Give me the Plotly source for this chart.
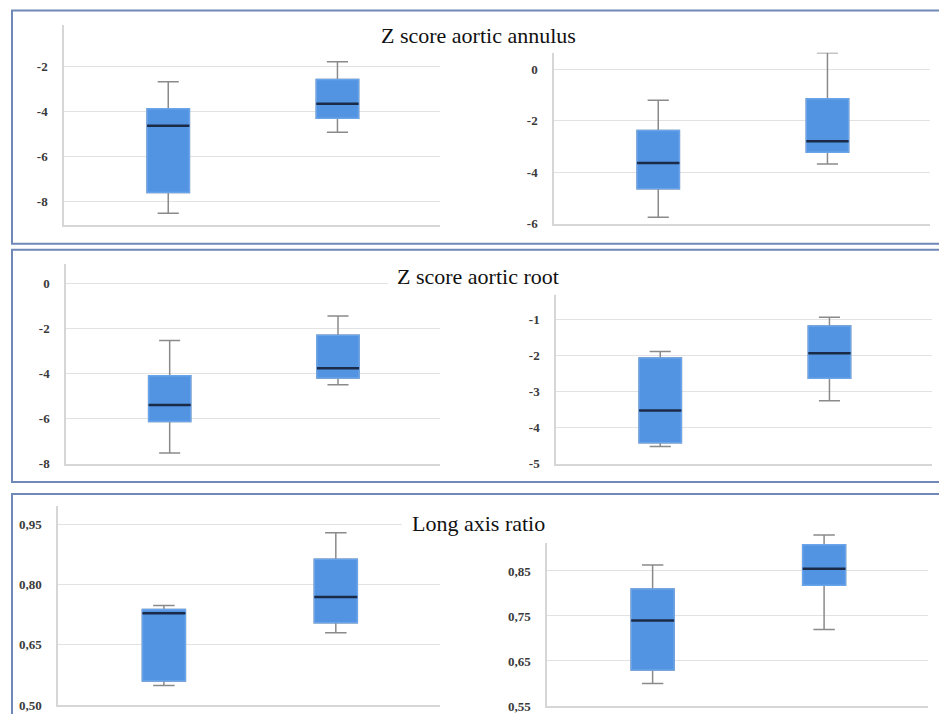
import plotly.graph_objects as go

# page body margin is 8px, so the figure is sized to fill the 947x722 window exactly
OFF = 8
W, H = 947 - 2 * OFF, 722 - 2 * OFF
YS = 0.988  # measured vertical compression of the photographed page

categories = ["Group 1", "Group 2"]
titles = ["Z score aortic annulus", "Z score aortic root", "Long axis ratio"]

# ---- Z score aortic annulus ----
ann_l_low = [-8.52, -4.93]
ann_l_q1 = [-7.60, -4.31]
ann_l_med = [-4.64, -3.66]
ann_l_q3 = [-3.88, -2.59]
ann_l_high = [-2.69, -1.80]
ann_l_ticks = [-8, -6, -4, -2]
ann_l_ticktext = ["-8", "-6", "-4", "-2"]

ann_r_low = [-5.75, -3.68]
ann_r_q1 = [-4.64, -3.22]
ann_r_med = [-3.64, -2.79]
ann_r_q3 = [-2.38, -1.14]
ann_r_high = [-1.20, 0.65]
ann_r_ticks = [-6, -4, -2, 0]
ann_r_ticktext = ["-6", "-4", "-2", "0"]

# ---- Z score aortic root ----
root_l_low = [-7.52, -4.49]
root_l_q1 = [-6.12, -4.19]
root_l_med = [-5.39, -3.76]
root_l_q3 = [-4.09, -2.30]
root_l_high = [-2.53, -1.45]
root_l_ticks = [-8, -6, -4, -2, 0]
root_l_ticktext = ["-8", "-6", "-4", "-2", "0"]

root_r_low = [-4.52, -3.25]
root_r_q1 = [-4.41, -2.62]
root_r_med = [-3.52, -1.93]
root_r_q3 = [-2.06, -1.17]
root_r_high = [-1.88, -0.93]
root_r_ticks = [-5, -4, -3, -2, -1, 0]
root_r_ticktext = ["-5", "-4", "-3", "-2", "-1", ""]

# ---- Long axis ratio ----
lar_l_low = [0.549, 0.680]
lar_l_q1 = [0.560, 0.705]
lar_l_med = [0.729, 0.769]
lar_l_q3 = [0.738, 0.863]
lar_l_high = [0.748, 0.929]
lar_l_ticks = [0.50, 0.65, 0.80, 0.95]
lar_l_ticktext = ["0,50", "0,65", "0,80", "0,95"]

lar_r_low = [0.600, 0.720]
lar_r_q1 = [0.630, 0.818]
lar_r_med = [0.740, 0.855]
lar_r_q3 = [0.810, 0.908]
lar_r_high = [0.863, 0.930]
lar_r_ticks = [0.55, 0.65, 0.75, 0.85, 0.95]
lar_r_ticktext = ["0,55", "0,65", "0,75", "0,85", ""]

panels = [
    (ann_l_low, ann_l_q1, ann_l_med, ann_l_q3, ann_l_high, ann_l_ticks, ann_l_ticktext),
    (ann_r_low, ann_r_q1, ann_r_med, ann_r_q3, ann_r_high, ann_r_ticks, ann_r_ticktext),
    (root_l_low, root_l_q1, root_l_med, root_l_q3, root_l_high, root_l_ticks, root_l_ticktext),
    (root_r_low, root_r_q1, root_r_med, root_r_q3, root_r_high, root_r_ticks, root_r_ticktext),
    (lar_l_low, lar_l_q1, lar_l_med, lar_l_q3, lar_l_high, lar_l_ticks, lar_l_ticktext),
    (lar_r_low, lar_r_q1, lar_r_med, lar_r_q3, lar_r_high, lar_r_ticks, lar_r_ticktext),
]

# window-pixel layout of each plot area: (x0, x1, ytop, ybottom, yrange)
areas = [
    (64, 440, 25, 225, [-9.03, -0.15]),
    (554, 930, 53, 224, [-6, 0.65]),
    (66, 440, 264, 464, [-8, 0.87]),
    (556, 932, 284, 464, [-5, 0]),
    (58, 440, 506, 705, [0.5, 0.996]),
    (547, 928, 526, 706, [0.55, 0.95]),
]


def px(x):
    return (x - OFF) / W


def py(y, clamp=False):
    v = 1 - ((y - 0.5) / YS - OFF) / H
    if clamp:
        v = min(1.0, max(0.0, v))
    return v


BOX_BLUE = "#5394e2"
BOX_EDGE = "#6aa4ea"
WHISK = "#8a8a8a"
MEDIAN = "#1b2b47"
GRID = "#e2e2e2"
AXLINE = "#d6d6d6"

fig = go.Figure()
layout = dict(
    width=W, height=H, margin=dict(l=0, r=0, t=0, b=0),
    paper_bgcolor="white", plot_bgcolor="white",
    showlegend=False, boxmode="overlay",
)

for i, ((low, q1, med, q3, high, tv, tt), (x0, x1, yt, yb, yr)) in enumerate(zip(panels, areas)):
    n = "" if i == 0 else str(i + 1)
    xa, ya = "x" + n, "y" + n
    # whiskers (gray)
    fig.add_trace(go.Box(
        x=categories, q1=q1, median=med, q3=q3, lowerfence=low, upperfence=high,
        xaxis=xa, yaxis=ya, width=0.25, whiskerwidth=0.5,
        line=dict(color=WHISK, width=1.5), fillcolor=BOX_BLUE,
        hoverinfo="skip",
    ))
    # box body (blue)
    fig.add_trace(go.Box(
        x=categories, q1=q1, median=med, q3=q3, lowerfence=q1, upperfence=q3,
        xaxis=xa, yaxis=ya, width=0.25, whiskerwidth=0,
        line=dict(color=BOX_EDGE, width=1.5), fillcolor=BOX_BLUE,
        hoverinfo="skip",
    ))
    # median line (dark)
    fig.add_trace(go.Box(
        x=categories, q1=med, median=med, q3=med, lowerfence=med, upperfence=med,
        xaxis=xa, yaxis=ya, width=0.25, whiskerwidth=0,
        line=dict(color=MEDIAN, width=2.5), fillcolor=MEDIAN,
        hoverinfo="skip",
    ))
    layout["xaxis" + n] = dict(
        domain=[px(x0), px(x1)], anchor=ya, range=[-0.616, 1.606],
        showticklabels=False, showgrid=False, zeroline=False,
        showline=True, linecolor=AXLINE, linewidth=1.5, ticks="",
        fixedrange=True,
    )
    layout["yaxis" + n] = dict(
        domain=[py(yb, True), py(yt, True)], anchor=xa, range=yr,
        tickvals=tv, ticktext=tt, showgrid=True, gridcolor=GRID, gridwidth=1.2,
        zeroline=False, showline=True, linecolor=AXLINE, linewidth=1.5,
        ticks="", ticklabelstandoff=12,
        tickfont=dict(family="Liberation Serif", size=13, color="#3a3a3a", weight="bold"),
        fixedrange=True,
    )

FRAME = "#6f88b8"
shapes = []
for (top, bottom) in [(11, 244), (250, 482), (494, 760)]:
    shapes.append(dict(type="rect", xref="paper", yref="paper",
                       x0=px(12), x1=1.05, y0=py(bottom), y1=py(top),
                       line=dict(color=FRAME, width=2), fillcolor="rgba(0,0,0,0)",
                       layer="above"))
# white title backgrounds that hide part of the grid
for (cx0, cx1, cy0, cy1) in [(388, 573, 262, 295), (402, 558, 500, 543)]:
    shapes.append(dict(type="rect", xref="paper", yref="paper",
                       x0=px(cx0), x1=px(cx1), y0=py(cy1), y1=py(cy0),
                       line=dict(width=0), fillcolor="white", layer="above"))
layout["shapes"] = shapes

annotations = []
for t, (cx, cy) in zip(titles, [(478, 36), (478, 277), (479, 524)]):
    annotations.append(dict(text=t, x=px(cx), y=py(cy), xref="paper", yref="paper",
                            xanchor="center", yanchor="middle", showarrow=False,
                            font=dict(family="Liberation Serif", size=22, color="#111111")))
layout["annotations"] = annotations

fig.update_layout(**layout)
fig.write_html("out.html")
